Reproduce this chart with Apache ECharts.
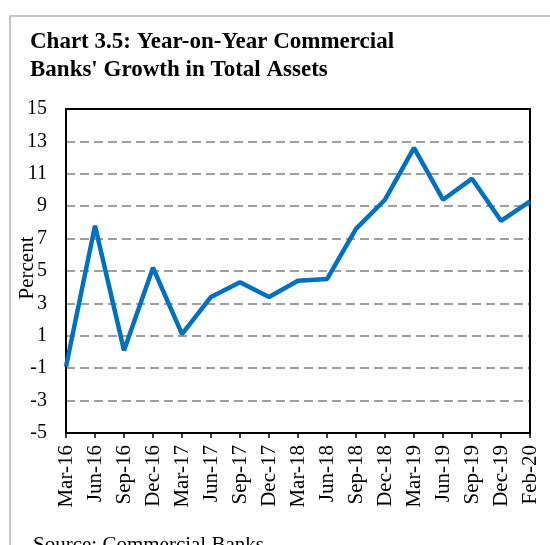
<!DOCTYPE html>
<html>
<head>
<meta charset="utf-8">
<script src="https://cdn.jsdelivr.net/npm/echarts@6/dist/echarts.min.js"></script>
<style>html,body{margin:0;padding:0;background:#fff}#c{width:550px;height:545px}</style>
</head>
<body>
<div id="c"></div>
<script>
var categories = ['Mar-16','Jun-16','Sep-16','Dec-16','Mar-17','Jun-17','Sep-17','Dec-17','Mar-18','Jun-18','Sep-18','Dec-18','Mar-19','Jun-19','Sep-19','Dec-19','Feb-20'];
var growth = [-0.9, 7.8, 0.1, 5.2, 1.1, 3.4, 4.3, 3.4, 4.4, 4.5, 7.6, 9.4, 12.6, 9.4, 10.7, 8.1, 9.3];
var yLabels = [-5, -3, -1, 1, 3, 5, 7, 9, 11, 13, 15];
var yGridLines = [-3, -1, 1, 3, 5, 7, 9, 11, 13];

var serif = '"Liberation Serif", "Times New Roman", serif';
var chart = echarts.init(document.getElementById('c'), null, {renderer: 'canvas'});
chart.setOption({
  animation: false,
  backgroundColor: '#fff',
  grid: {left: 66, right: 20, top: 109, bottom: 112, containLabel: false},
  graphic: [
    {type: 'polyline', shape: {points: [[10, 545], [10, 16], [550, 16]]}, style: {stroke: '#b4b4b4', lineWidth: 1.5, fill: null}, silent: true},
    {type: 'text', left: 30, top: 28, style: {text: 'Chart 3.5: Year-on-Year Commercial\nBanks\' Growth in Total Assets', font: 'bold 23px ' + serif, fill: '#000', lineHeight: 28}},
    {type: 'text', x: 27.5, y: 268, rotation: Math.PI / 2, style: {text: 'Percent', font: '21px ' + serif, fill: '#000', align: 'center', verticalAlign: 'middle'}},
    {type: 'text', x: 33, y: 535, style: {text: 'Source: Commercial Banks', font: '21px ' + serif, fill: '#000', align: 'left', verticalAlign: 'top'}}
  ],
  xAxis: [{
    type: 'category',
    data: categories,
    boundaryGap: false,
    axisLine: {show: true, onZero: false, lineStyle: {color: '#000', width: 2}},
    axisTick: {show: true, inside: false, length: 5, lineStyle: {color: '#000', width: 1.5}},
    axisLabel: {rotate: 90, margin: 12, color: '#000', fontFamily: serif, fontSize: 21, interval: 0},
    splitLine: {show: false}
  }, {
    type: 'category',
    data: categories,
    position: 'top',
    boundaryGap: false,
    axisLine: {show: true, onZero: false, lineStyle: {color: '#000', width: 2}},
    axisTick: {show: false},
    axisLabel: {show: false},
    splitLine: {show: false}
  }],
  yAxis: [{
    type: 'value',
    min: -5,
    max: 15,
    axisLine: {show: true, onZero: false, lineStyle: {color: '#000', width: 2}},
    axisTick: {show: false, customValues: yGridLines},
    axisLabel: {customValues: yLabels, margin: 19, color: '#000', fontFamily: serif, fontSize: 20},
    splitLine: {show: true, lineStyle: {color: '#808080', width: 1.5, type: [9, 5]}}
  }, {
    type: 'value',
    min: -5,
    max: 15,
    position: 'right',
    axisLine: {show: true, onZero: false, lineStyle: {color: '#000', width: 2}},
    axisTick: {show: false},
    axisLabel: {show: false},
    splitLine: {show: false}
  }],
  series: [{
    type: 'line',
    data: growth,
    xAxisIndex: 0,
    yAxisIndex: 0,
    showSymbol: false,
    symbol: 'none',
    lineStyle: {color: '#0070C0', width: 4.5},
    z: 5
  }]
});
</script>
</body>
</html>
